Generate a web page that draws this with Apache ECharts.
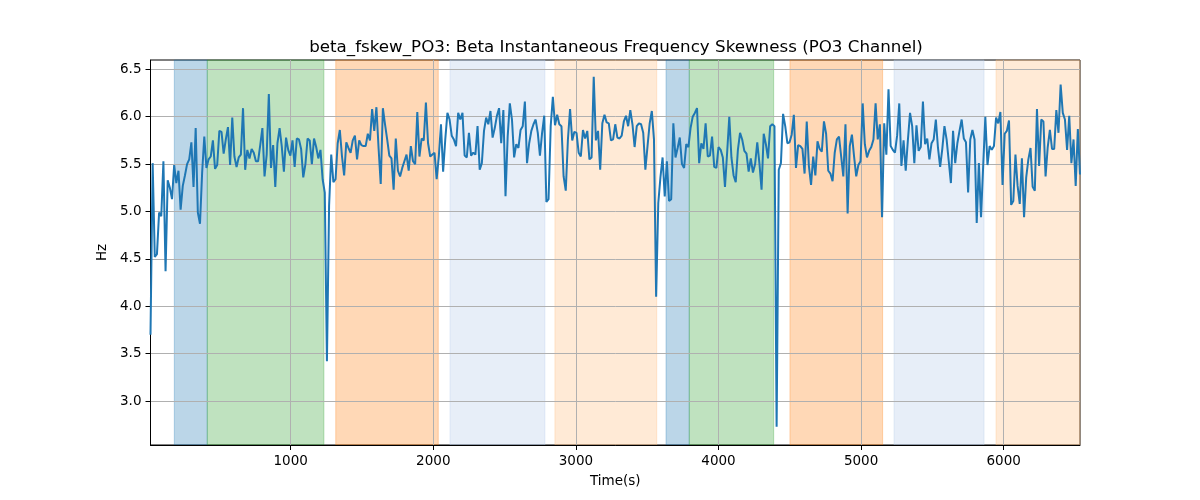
<!DOCTYPE html>
<html>
<head>
<meta charset="utf-8">
<script src="https://cdn.jsdelivr.net/npm/echarts@6/dist/echarts.min.js"></script>
<style>
html,body{margin:0;padding:0;background:#fff;}
#chart{width:1200px;height:500px;}
</style>
</head>
<body>
<div id="chart"></div>
<script>
// ---- data ----
const T_START = 17;
const T_END = 6535;
const skewHz = [
 3.7, 5.51, 4.52, 4.55, 4.99, 4.95, 5.53, 4.37, 5.33, 5.25, 5.13, 5.49, 5.30, 5.43, 5.02, 5.27, 5.38, 5.50, 5.55, 5.73, 5.26, 5.88, 4.99, 4.87, 5.41, 5.79, 5.46, 5.55, 5.58, 5.75, 5.45, 5.49, 5.85, 5.84, 5.61, 5.76, 5.89, 5.49, 5.99, 5.58, 5.47, 5.57, 5.60, 6.09, 5.44, 5.65, 5.56, 5.66, 5.62, 5.53, 5.53, 5.70, 5.88, 5.37, 5.60, 6.24,
 5.46, 5.70, 5.26, 5.72, 5.88, 5.69, 5.42, 5.78, 5.65, 5.59, 5.75, 5.47, 5.77, 5.76, 5.66, 5.36, 5.50, 5.77, 5.75, 5.50, 5.77, 5.68, 5.56, 5.65, 5.34, 5.20, 3.42, 5.06, 5.60, 5.31, 5.34, 5.72, 5.86, 5.58, 5.38, 5.73, 5.67, 5.62, 5.75, 5.80, 5.55, 5.75, 5.70, 5.69, 5.69, 5.82, 5.75, 6.08, 5.85, 6.10, 5.67, 5.29, 6.09, 5.92, 5.76,
 5.59, 5.56, 5.23, 5.77, 5.43, 5.37, 5.46, 5.53, 5.60, 5.43, 5.69, 5.53, 5.50, 6.05, 5.58, 5.77, 5.75, 6.15, 5.72, 5.58, 5.60, 5.62, 5.34, 5.58, 5.92, 5.42, 5.76, 6.04, 5.97, 5.80, 5.76, 5.69, 6.04, 5.97, 6.04, 5.59, 5.57, 5.83, 5.59, 5.62, 5.60, 5.90, 5.44, 5.51, 5.85, 5.99, 5.92, 6.06, 5.78, 5.88, 6.01, 6.09, 5.72, 6.07, 5.16,
 5.79, 6.14, 5.97, 5.57, 5.71, 5.67, 5.86, 5.90, 6.16, 5.51, 5.72, 5.85, 5.92, 5.97, 5.83, 5.59, 5.83, 6.01, 5.10, 5.13, 5.90, 6.21, 5.91, 6.02, 5.92, 5.90, 5.37, 5.22, 5.76, 6.08, 5.75, 5.84, 5.83, 5.62, 5.58, 5.86, 5.77, 5.85, 5.55, 5.57, 6.42, 5.75, 5.85, 5.44, 5.93, 6.02, 5.94, 5.93, 5.75, 5.76, 5.92, 5.78, 5.77, 5.80, 5.95, 6.01, 5.90,
 6.07, 5.92, 5.68, 5.90, 5.93, 5.92, 5.83, 5.44, 5.69, 5.93, 6.06, 5.76, 4.10, 5.09, 5.36, 5.57, 5.16, 5.53, 5.11, 5.13, 5.93, 5.57, 5.67, 5.78, 5.50, 5.46, 5.71, 5.68, 5.88, 6.00, 6.04, 6.09, 5.51, 5.72, 5.66, 5.93, 5.58, 5.59, 5.79, 5.47, 5.46, 5.68, 5.65, 5.57, 5.26, 5.62, 6.00, 5.57, 5.38, 5.31, 5.65, 5.83, 5.76, 5.64, 5.61, 5.42,
 5.56, 5.41, 5.50, 5.73, 5.51, 5.23, 5.82, 5.71, 5.56, 5.90, 5.92, 5.90, 2.73, 5.44, 5.51, 6.03, 5.90, 5.72, 5.73, 5.81, 6.02, 5.46, 5.70, 5.69, 5.66, 5.40, 5.95, 5.48, 5.28, 5.58, 5.38, 5.74, 5.66, 5.63, 5.95, 5.82, 5.43, 5.40, 5.32, 5.62, 5.76, 5.79, 5.58, 5.37, 5.92, 4.98, 5.69, 5.81, 5.58, 5.37, 5.49, 5.53, 6.14, 5.71, 5.57, 5.64,
 5.68, 5.76, 6.14, 5.76, 5.92, 4.94, 5.93, 5.60, 6.29, 5.69, 5.65, 5.62, 5.80, 6.14, 5.48, 5.75, 5.43, 5.75, 6.04, 5.90, 5.51, 5.91, 5.64, 5.68, 6.16, 5.71, 5.77, 5.55, 5.72, 5.76, 5.97, 5.67, 5.47, 5.66, 5.90, 5.76, 5.53, 5.30, 5.85, 5.51, 5.72, 5.85, 5.97, 5.77, 5.73, 5.20, 5.76, 5.86, 5.76, 4.88, 5.51, 4.94, 5.48, 6.00, 5.49, 5.69,
 5.65, 5.69, 5.99, 5.93, 6.05, 5.28, 5.82, 5.85, 5.96, 5.07, 5.11, 5.60, 5.27, 5.08, 5.56, 4.94, 5.36, 5.55, 5.67, 5.26, 5.22, 6.08, 5.48, 5.97, 5.95, 5.37, 5.68, 5.86, 5.66, 5.66, 6.07, 5.83, 6.34, 6.04, 5.97, 5.65, 6.01, 5.51, 5.76, 5.27, 5.87, 5.39
];
const spanStart = [184, 415, 1316, 2117, 2853, 3632, 3795, 4501, 5231, 5946];
const spanEnd   = [415, 1233, 2035, 2783, 3567, 3795, 4387, 5151, 5862, 6535];
const spanKind  = ['blue', 'green', 'orange', 'lightblue', 'lightorange', 'blue', 'green', 'orange', 'lightblue', 'lightorange'];
const xTicks = [1000, 2000, 3000, 4000, 5000, 6000];
const yTicks = [3.0, 3.5, 4.0, 4.5, 5.0, 5.5, 6.0, 6.5];
const Y_MIN = 2.537, Y_MAX = 6.598;

// ---- styles ----
const kindColor = {
  blue: 'rgba(31,119,180,0.3)',
  green: 'rgba(44,160,44,0.3)',
  orange: 'rgba(255,127,14,0.3)',
  lightblue: 'rgba(174,199,232,0.3)',
  lightorange: 'rgba(255,187,120,0.3)'
};
const FONT = 'DejaVu Sans';

const n = skewHz.length;
const step = (T_END - T_START) / (n - 1);
const lineData = skewHz.map((v, i) => [T_START + i * step, v]);

const areas = spanStart.map((s, i) => [
  { xAxis: s, itemStyle: { color: kindColor[spanKind[i]], borderColor: kindColor[spanKind[i]], borderWidth: 1 } },
  { xAxis: spanEnd[i] }
]);

const chart = echarts.init(document.getElementById('chart'), null, { renderer: 'canvas' });
chart.setOption({
  animation: false,
  backgroundColor: '#fff',
  title: {
    text: 'beta_fskew_PO3: Beta Instantaneous Frequency Skewness (PO3 Channel)',
    left: 611,
    top: 34,
    textAlign: 'center',
    textStyle: { fontFamily: FONT, fontSize: 16.7, fontWeight: 'normal', color: '#000' }
  },
  grid: {
    left: 150.5, right: 120, top: 60, bottom: 55,
    show: true, borderColor: '#000', borderWidth: 1, backgroundColor: 'transparent'
  },
  xAxis: {
    type: 'value',
    min: T_START, max: T_END,
    z: 2,
    name: 'Time(s)',
    nameLocation: 'middle',
    nameGap: 29,
    nameTextStyle: { fontFamily: FONT, fontSize: 13.5, color: '#000' },
    axisLine: { show: true, onZero: false, lineStyle: { color: '#000', width: 1 } },
    axisTick: { show: true, customValues: xTicks, length: 5, lineStyle: { color: '#000' } },
    axisLabel: { customValues: xTicks, margin: 9, fontFamily: FONT, fontSize: 13.5, color: '#000',
      formatter: v => String(Math.round(v)) },
    splitLine: { show: true, lineStyle: { color: '#b0b0b0', width: 1 } }
  },
  yAxis: {
    type: 'value',
    min: Y_MIN, max: Y_MAX,
    z: 2,
    name: 'Hz',
    nameLocation: 'middle',
    nameGap: 40,
    nameRotate: 90,
    nameTextStyle: { fontFamily: FONT, fontSize: 13.5, color: '#000' },
    axisLine: { show: true, onZero: false, lineStyle: { color: '#000', width: 1 } },
    axisTick: { show: true, customValues: yTicks, length: 5, lineStyle: { color: '#000' } },
    axisLabel: { customValues: yTicks, margin: 9, fontFamily: FONT, fontSize: 13.5, color: '#000',
      formatter: v => v.toFixed(1) },
    splitLine: { show: true, lineStyle: { color: '#b0b0b0', width: 1 } }
  },
  series: [
    {
      type: 'line',
      z: 1,
      data: [],
      silent: true,
      markArea: { silent: true, data: areas }
    },
    {
      type: 'line',
      z: 3,
      data: lineData,
      showSymbol: false,
      symbol: 'none',
      silent: true,
      lineStyle: { color: '#1f77b4', width: 2 },
      itemStyle: { color: '#1f77b4' }
    }
  ]
});
</script>
</body>
</html>
